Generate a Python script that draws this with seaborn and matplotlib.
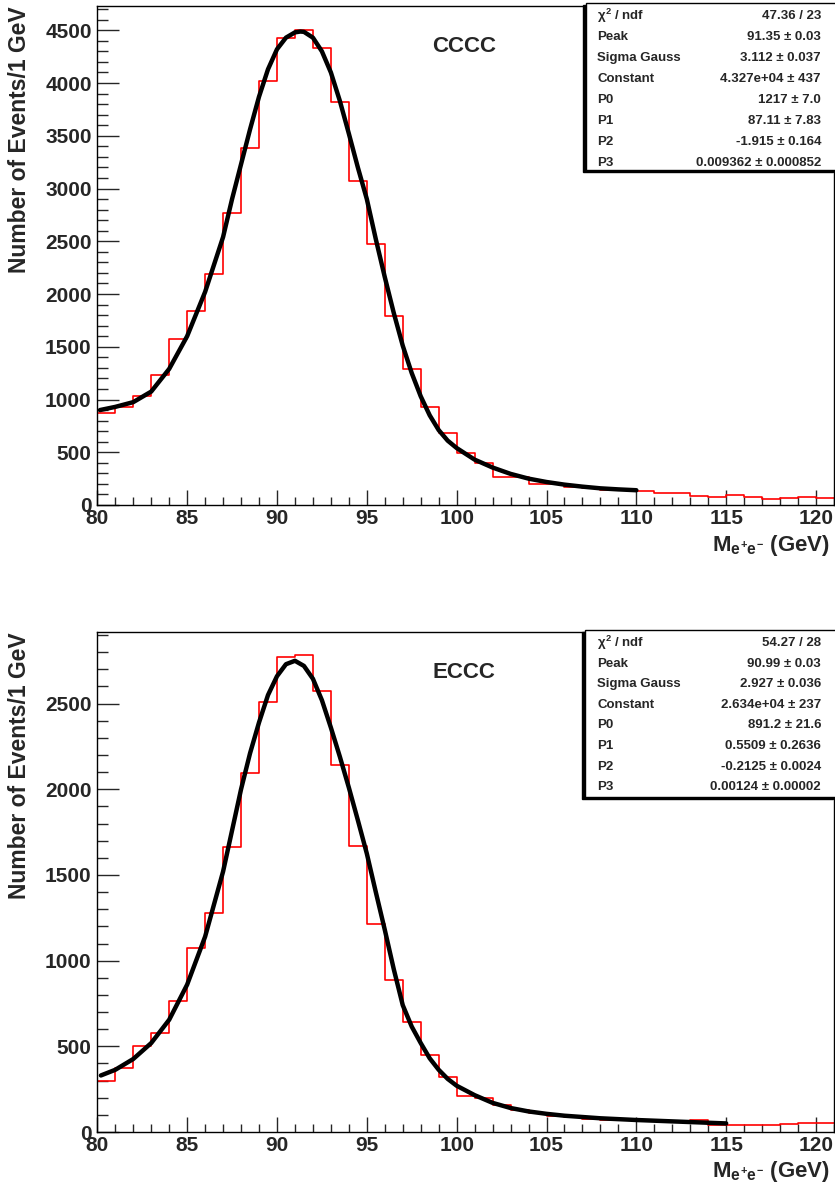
import numpy as np
import pandas as pd
import matplotlib
matplotlib.use("Agg")
import matplotlib.pyplot as plt
import seaborn as sns
from matplotlib.patches import Rectangle
from matplotlib.ticker import MultipleLocator

# ---------------- data ----------------
bin_low, bin_high = 80, 121
bin_centers = np.arange(bin_low, bin_high, 1) + 0.5

cccc_counts = [870, 932, 1033, 1229, 1570, 1839, 2193, 2765, 3381, 4016,
               4427, 4506, 4335, 3817, 3071, 2471, 1792, 1292, 926, 680,
               496, 401, 268, 262, 199, 199, 167, 158, 142, 142,
               133, 117, 117, 88, 73, 98, 79, 57, 70, 79, 70]

eccc_counts = [295, 371, 500, 578, 762, 1073, 1281, 1666, 2098, 2509,
               2775, 2781, 2571, 2141, 1672, 1211, 885, 642, 447, 319,
               210, 200, 155, 130, 111, 95, 87, 76, 72, 72,
               72, 64, 60, 68, 43, 39, 39, 43, 49, 51, 53]

cccc_fit_x = [80.15, 81, 82, 83, 84, 85, 86, 86.5, 87, 87.5, 88, 88.5, 89, 89.5,
              90, 90.5, 91, 91.3, 91.5, 92, 92.5, 93, 93.5, 94, 94.5, 95, 95.5,
              96, 96.5, 97, 97.5, 98, 98.5, 99, 99.5, 100, 101, 102, 103, 104,
              105, 106, 107, 108, 109, 110]
cccc_fit_y = [900, 930, 975, 1075, 1290, 1600, 2020, 2280, 2540, 2900, 3230, 3560, 3870, 4130,
              4320, 4430, 4480, 4488, 4485, 4430, 4300, 4100, 3830, 3520, 3200, 2900, 2520,
              2160, 1820, 1510, 1250, 1030, 850, 710, 610, 540, 430, 355, 295, 250,
              218, 193, 174, 158, 148, 140]

eccc_fit_x = [80.2, 81, 82, 83, 84, 85, 86, 86.5, 87, 87.5, 88, 88.5, 89, 89.5,
              90, 90.5, 91, 91.5, 92, 92.5, 93, 93.5, 94, 94.5, 95, 95.5, 96, 96.5,
              97, 97.5, 98, 98.5, 99, 99.5, 100, 101, 102, 103, 104, 105, 106, 108,
              110, 112, 114, 115]
eccc_fit_y = [330, 363, 426, 519, 655, 860, 1140, 1330, 1520, 1760, 2000, 2210, 2390, 2550,
              2660, 2730, 2750, 2720, 2645, 2520, 2360, 2190, 2010, 1820, 1625, 1400, 1180, 950,
              740, 615, 519, 430, 363, 310, 270, 215, 170, 140, 120, 106, 95, 80,
              70, 62, 54, 50]

stat_names = [r"$\chi^{2}$ / ndf", "Peak", "Sigma Gauss", "Constant", "P0", "P1", "P2", "P3"]
cccc_stat_values = ["47.36 / 23", "91.35 \u00b1 0.03", "3.112 \u00b1 0.037", "4.327e+04 \u00b1 437",
                    "1217 \u00b1 7.0", "87.11 \u00b1 7.83", "-1.915 \u00b1 0.164", "0.009362 \u00b1 0.000852"]
eccc_stat_values = ["54.27 / 28", "90.99 \u00b1 0.03", "2.927 \u00b1 0.036", "2.634e+04 \u00b1 237",
                    "891.2 \u00b1 21.6", "0.5509 \u00b1 0.2636", "-0.2125 \u00b1 0.0024", "0.00124 \u00b1 0.00002"]

x_ticks = [80, 85, 90, 95, 100, 105, 110, 115, 120]
y_label = "Number of Events/1 GeV"
x_label = r"M$_{e^{+}e^{-}}$ (GeV)"

# ---------------- style ----------------
sns.set_style("white")
plt.rcParams["font.family"] = ["Liberation Sans", "DejaVu Sans"]
plt.rcParams["font.weight"] = "bold"
plt.rcParams["mathtext.fontset"] = "custom"
plt.rcParams["mathtext.rm"] = "Liberation Sans:bold"
plt.rcParams["mathtext.it"] = "Liberation Sans:bold"
plt.rcParams["mathtext.bf"] = "Liberation Sans:bold"

W, H = 835, 1186
fig = plt.figure(figsize=(W / 100, H / 100), dpi=100)
fig.patch.set_facecolor("white")


def px_axes(left, top, right, bottom):
    return [left / W, 1 - bottom / H, (right - left) / W, (bottom - top) / H]


panels = [
    dict(name="CCCC", counts=cccc_counts, fx=cccc_fit_x, fy=cccc_fit_y,
         stats=cccc_stat_values, rect=(97.3, 6, 834, 505), ymax=4730,
         box=(586, 3, 836, 170), rows_top=16, row_step=21, name_y=46),
    dict(name="ECCC", counts=eccc_counts, fx=eccc_fit_x, fy=eccc_fit_y,
         stats=eccc_stat_values, rect=(97.3, 632, 834, 1132), ymax=2918,
         box=(585, 630, 836, 797), rows_top=643, row_step=20.6, name_y=673),
]

for p in panels:
    l, t, r, b = p["rect"]
    ax = fig.add_axes(px_axes(l, t, r, b))
    df = pd.DataFrame({"mass": bin_centers, "events": p["counts"]})
    sns.histplot(data=df, x="mass", weights="events", binwidth=1,
                 binrange=(bin_low, bin_high),
                 element="step", fill=False, color="#ff0000", linewidth=1.2, ax=ax)
    fit = pd.DataFrame({"mass": p["fx"], "fit": p["fy"]})
    sns.lineplot(data=fit, x="mass", y="fit", color="black", linewidth=3.2,
                 sort=True, estimator=None, ax=ax)
    ax.set_xlim(bin_low, bin_high)
    ax.set_ylim(0, p["ymax"])
    ax.set_xlabel("")
    ax.set_ylabel("")
    ax.set_xticks(x_ticks)
    ax.xaxis.set_minor_locator(MultipleLocator(1))
    ax.yaxis.set_major_locator(MultipleLocator(500))
    ax.yaxis.set_minor_locator(MultipleLocator(100))
    ax.tick_params(axis="x", which="major", direction="in", length=11, width=1,
                   labelsize=15, pad=3, top=False, bottom=True)
    ax.tick_params(axis="x", which="minor", direction="in", length=5.5, width=1,
                   top=False, bottom=True)
    ax.tick_params(axis="y", which="major", direction="in", length=16, width=1,
                   labelsize=15, pad=4, right=False, left=True)
    ax.tick_params(axis="y", which="minor", direction="in", length=8, width=1,
                   right=False, left=True)
    for lab in ax.get_xticklabels() + ax.get_yticklabels():
        lab.set_fontweight("bold")
    for s in ax.spines.values():
        s.set_visible(True)
        s.set_color("black")
        s.set_linewidth(1.0)

    axw = r - l
    axh = b - t
    ax.text((20 - l) / axw, 1.0, y_label, transform=ax.transAxes, rotation=90,
            ha="center", va="top", fontsize=16.5, fontweight="bold")
    ax.text((830 - l) / axw, -40 / axh, x_label, transform=ax.transAxes,
            ha="right", va="center", fontsize=16, fontweight="bold")

    ax.text((464 - l) / axw, 1 - (p["name_y"] - t) / axh, p["name"],
            transform=ax.transAxes, ha="center", va="center",
            fontsize=16, fontweight="bold")

    bl, bt, br, bb = p["box"]
    fig.patches.append(Rectangle(((bl - 3) / W, 1 - (bb + 2) / H), (br - bl) / W, (bb - bt) / H,
                                 transform=fig.transFigure, facecolor="black",
                                 edgecolor="black", zorder=5))
    fig.patches.append(Rectangle((bl / W, 1 - bb / H), (br - bl) / W, (bb - bt) / H,
                                 transform=fig.transFigure, facecolor="white",
                                 edgecolor="black", linewidth=1.0, zorder=6))
    for i, (nm, val) in enumerate(zip(stat_names, p["stats"])):
        yy = 1 - (p["rows_top"] + i * p["row_step"]) / H
        fig.text(597 / W, yy, nm, ha="left", va="center", fontsize=9.5,
                 fontweight="bold", zorder=7)
        fig.text(821 / W, yy, val, ha="right", va="center", fontsize=9.5,
                 fontweight="bold", zorder=7)

fig.savefig("out.png", dpi=100)
